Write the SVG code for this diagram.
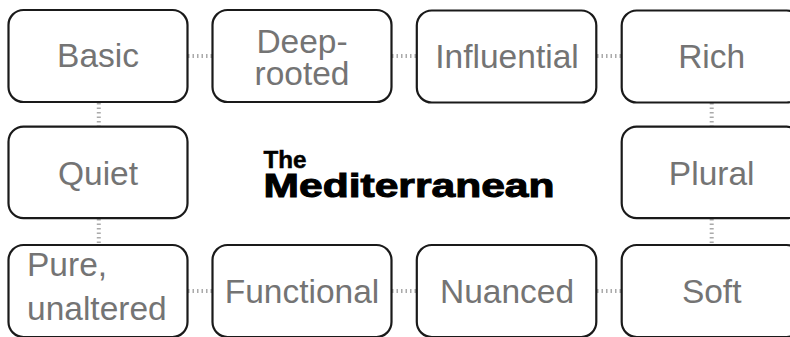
<svg xmlns="http://www.w3.org/2000/svg" width="790" height="337" viewBox="0 0 790 337">
<style>
.box{fill:#fff;stroke:#1a1a1a;stroke-width:2.2}
.lbl{font-family:"Liberation Sans",Arial,sans-serif;font-size:33.5px;fill:#747474;text-anchor:middle}
.con{stroke:#aaa;stroke-width:4;stroke-dasharray:1.5 3;fill:none}
.title{font-family:"Liberation Sans",Arial,sans-serif;font-weight:bold;fill:#000;stroke:#000}
</style>
<rect width="790" height="337" fill="#fff"/>
<g id="connectors">
<line class="con" x1="188" y1="56" x2="212" y2="56"/>
<line class="con" x1="392" y1="56" x2="416" y2="56"/>
<line class="con" x1="597" y1="56" x2="621" y2="56"/>
<line class="con" x1="188" y1="291" x2="212" y2="291"/>
<line class="con" x1="392" y1="291" x2="416" y2="291"/>
<line class="con" x1="597" y1="291" x2="621" y2="291"/>
<line class="con" x1="98.8" y1="103" x2="98.8" y2="126"/>
<line class="con" x1="98.8" y1="219" x2="98.8" y2="244"/>
<line class="con" x1="711.7" y1="103" x2="711.7" y2="126"/>
<line class="con" x1="711.7" y1="219" x2="711.7" y2="244"/>
</g>
<g id="n-basic"><rect class="box" x="8.5" y="10" width="179" height="92" rx="15"/><text class="lbl" x="98" y="67">Basic</text></g>
<g id="n-deep"><rect class="box" x="212.5" y="10" width="179" height="92" rx="15"/><text class="lbl" x="302" y="52.5">Deep-</text><text class="lbl" x="302" y="85">rooted</text></g>
<g id="n-influential"><rect class="box" x="416.8" y="10.5" width="179.5" height="92" rx="15"/><text class="lbl" x="507" y="68">Influential</text></g>
<g id="n-rich"><rect class="box" x="621.7" y="10.5" width="180" height="92" rx="15"/><text class="lbl" x="711.7" y="68">Rich</text></g>
<g id="n-quiet"><rect class="box" x="8.5" y="126.7" width="179" height="91.5" rx="15"/><text class="lbl" x="98" y="185">Quiet</text></g>
<g id="n-plural"><rect class="box" x="621.7" y="126.7" width="180" height="91.5" rx="15"/><text class="lbl" x="711.7" y="185">Plural</text></g>
<g id="n-pure"><rect class="box" x="8.5" y="245" width="179" height="92" rx="15"/><text class="lbl" x="27" y="276" style="text-anchor:start">Pure,</text><text class="lbl" x="27" y="320" style="text-anchor:start">unaltered</text></g>
<g id="n-functional"><rect class="box" x="212.5" y="245" width="179" height="92" rx="15"/><text class="lbl" x="302" y="303">Functional</text></g>
<g id="n-nuanced"><rect class="box" x="416.8" y="245" width="179.5" height="92" rx="15"/><text class="lbl" x="507" y="303">Nuanced</text></g>
<g id="n-soft"><rect class="box" x="621.7" y="245" width="180" height="92" rx="15"/><text class="lbl" x="711.7" y="303">Soft</text></g>
<g id="n-title">
<text class="title" x="263.5" y="168.3" font-size="23" stroke-width="0.5" textLength="43" lengthAdjust="spacingAndGlyphs">The</text>
<text class="title" x="263.5" y="196.7" font-size="33" stroke-width="1" textLength="291" lengthAdjust="spacingAndGlyphs">Mediterranean</text>
</g>
</svg>
